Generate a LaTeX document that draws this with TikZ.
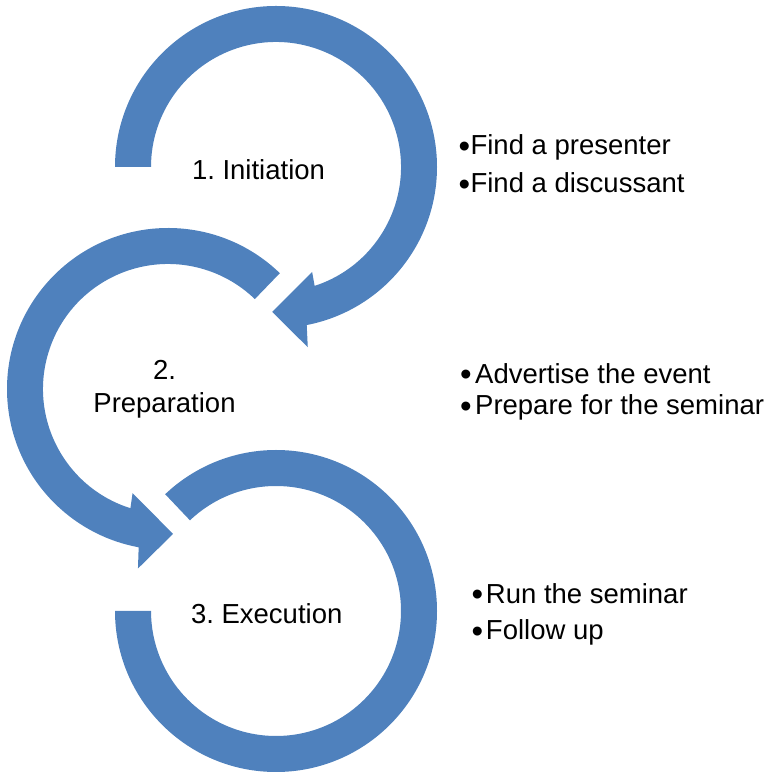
\documentclass[tikz,border=0pt]{standalone}
\usepackage{fontspec}
\setmainfont{Liberation Sans}
\frenchspacing
\definecolor{arrowblue}{HTML}{4F81BD}
\newcommand\itembullet[1]{\raisebox{-2.7pt}{\fontsize{33}{33}\selectfont •}\hspace{#1}}
\begin{document}
\begin{tikzpicture}[x=1pt,y=1pt,
  band/.style={fill=arrowblue, draw=none},
  steplabel/.style={font=\fontsize{27.5}{33}\selectfont, inner sep=0pt, anchor=base, text=black},
  bulletitem/.style={font=\fontsize{27.5}{33}\selectfont, inner sep=0pt, anchor=base west, text=black}]
\useasboundingbox (0,0) rectangle (768,779);
\coordinate (c1) at (276,612);
\coordinate (c2) at (168,390);
\coordinate (c3) at (276,168);
% circle 1 with arrowhead
\fill[band, shift={(c1)}] (180:125) -- (180:161)
  arc[start angle=180, end angle=-79, radius=161]
  -- (-80:183) -- (-91.5:145) -- (-71:111) -- (-72:125)
  arc[start angle=-72, end angle=180, radius=125] -- cycle;
% circle 2 with arrowhead
\fill[band, shift={(c2)}] (46:125) -- (46:161)
  arc[start angle=46, end angle=259.5, radius=161]
  -- (260.5:182) -- (272:145) -- (251.2:110) -- (252.5:125)
  arc[start angle=252.5, end angle=46, radius=125] -- cycle;
% circle 3
\fill[band, shift={(c3)}] (180:125) -- (180:161)
  arc[start angle=180, end angle=493.5, radius=161]
  -- (133.5:125)
  arc[start angle=493.5, end angle=180, radius=125] -- cycle;
% step labels
\node[steplabel] (t1) at (258.5,599) {1. Initiation};
\node[steplabel] (t2a) at (164.5,399) {2.};
\node[steplabel] (t2b) at (164.5,366) {Preparation};
\node[steplabel] (t3) at (266.7,155) {3. Execution};
% bullet items
\node[bulletitem] (i1a) at (458.3,624) {\itembullet{0.5pt}Find a presenter};
\node[bulletitem] (i1b) at (458.3,586) {\itembullet{0.5pt}Find a discussant};
\node[bulletitem] (i2a) at (460,395.7) {\itembullet{3.4pt}Advertise the event};
\node[bulletitem] (i2b) at (460,364) {\itembullet{3.4pt}Prepare for the seminar};
\node[bulletitem] (i3a) at (471.3,175.7) {\itembullet{2.9pt}Run the seminar};
\node[bulletitem] (i3b) at (471.3,139) {\itembullet{2.9pt}Follow up};
\end{tikzpicture}
\end{document}
